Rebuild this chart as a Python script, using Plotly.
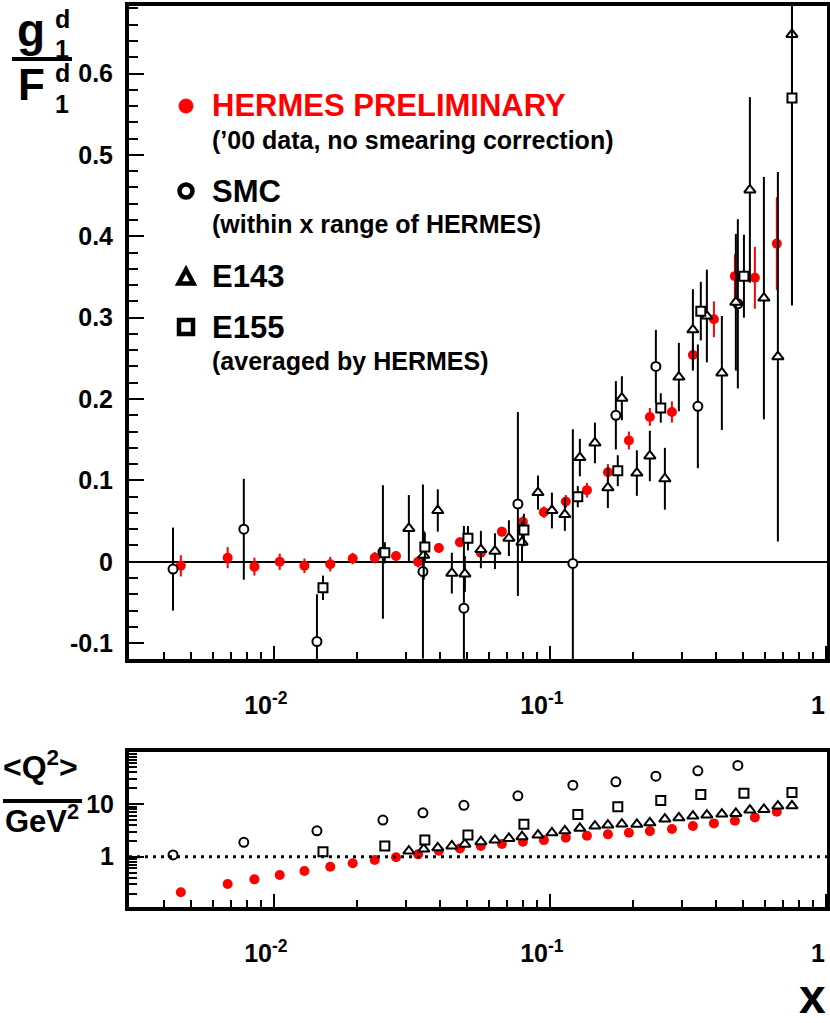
import plotly.graph_objects as go

# ---- data ----
hermes_x = [0.0046, 0.0068, 0.0085, 0.0105, 0.0129, 0.0160, 0.0193, 0.0232, 0.0277,
            0.0333, 0.0396, 0.0472, 0.0562, 0.0670, 0.0798, 0.0951, 0.1142, 0.1362,
            0.1623, 0.1933, 0.2303, 0.2768, 0.3297, 0.3929, 0.4680, 0.5529, 0.6640]
hermes_ratio = [-0.005, 0.005, -0.006, 0.000, -0.005, -0.003, 0.004, 0.005, 0.007,
                0.000, 0.017, 0.024, 0.011, 0.037, 0.049, 0.061, 0.074, 0.088,
                0.110, 0.149, 0.178, 0.184, 0.254, 0.298, 0.351, 0.349, 0.391]
hermes_err = [0.013, 0.013, 0.011, 0.010, 0.009, 0.009, 0.007, 0.007, 0.006,
              0.007, 0.006, 0.006, 0.006, 0.006, 0.007, 0.007, 0.008, 0.009,
              0.010, 0.011, 0.011, 0.013, 0.016, 0.022, 0.027, 0.038, 0.057]
hermes_q2 = [0.211, 0.303, 0.372, 0.45, 0.535, 0.646, 0.75, 0.865, 0.975,
             1.11, 1.30, 1.44, 1.60, 1.74, 1.93, 2.07, 2.29, 2.50,
             2.66, 2.85, 3.07, 3.36, 3.83, 4.30, 4.82, 5.59, 7.14]

smc_x = [0.00431, 0.00778, 0.01432, 0.02483, 0.03467, 0.0488, 0.07656, 0.1211,
         0.1734, 0.2421, 0.3436, 0.4797]
smc_ratio = [-0.009, 0.040, -0.098, 0.012, -0.012, -0.057, 0.071, -0.002,
             0.180, 0.240, 0.191, 0.317]
smc_err = [0.051, 0.062, 0.058, 0.082, 0.107, 0.101, 0.113, 0.165,
           0.042, 0.045, 0.076, 0.104]
smc_q2 = [1.08, 1.88, 3.11, 4.97, 6.84, 9.49, 14.4, 22.9, 26.5, 34.0, 42.9, 54.2]

e143_x = [0.03083, 0.03491, 0.03925, 0.04413, 0.0492, 0.05623, 0.06323, 0.07104,
          0.07925, 0.09053, 0.1017, 0.1133, 0.1284, 0.1456, 0.1622, 0.1823,
          0.2066, 0.2302, 0.2610, 0.2933, 0.3297, 0.3705, 0.4198, 0.4718,
          0.5304, 0.5962, 0.6699, 0.7535]
e143_ratio = [0.041, 0.008, 0.063, -0.014, -0.015, 0.015, 0.013, 0.029,
              0.024, 0.085, 0.063, 0.058, 0.128, 0.146, 0.091, 0.201,
              0.109, 0.130, 0.102, 0.227, 0.285, 0.302, 0.232, 0.319,
              0.457, 0.324, 0.252, 0.648]
e143_err = [0.041, 0.030, 0.026, 0.025, 0.022, 0.023, 0.022, 0.022,
            0.025, 0.021, 0.022, 0.020, 0.023, 0.025, 0.025, 0.027,
            0.028, 0.031, 0.038, 0.042, 0.050, 0.057, 0.070, 0.084,
            0.114, 0.149, 0.227, 0.330]
e143_q2 = [1.28, 1.40, 1.48, 1.60, 1.73, 1.93, 2.07, 2.23, 2.40, 2.58, 2.85, 3.11,
           3.46, 3.83, 4.00, 4.17, 4.12, 4.42, 5.19, 5.50, 5.92, 6.18, 6.46, 6.66,
           7.69, 7.93, 9.16, 9.29]

e155_x = [0.01506, 0.02523, 0.03523, 0.05047, 0.08051, 0.1262, 0.1762, 0.2522,
          0.3522, 0.5047, 0.7535]
e155_ratio = [-0.032, 0.011, 0.018, 0.029, 0.039, 0.080, 0.112, 0.189, 0.308, 0.351, 0.570]
e155_err = [0.015, 0.013, 0.018, 0.015, 0.020, 0.013, 0.019, 0.018, 0.036, 0.051, 0.255]
e155_q2 = [1.24, 1.60, 2.07, 2.58, 4.12, 6.38, 8.89, 11.7, 15.3, 16.0, 16.7]

x_ticks = [0.01, 0.1, 1]
x_tick_text = ["10<sup>-2</sup>", "10<sup>-1</sup>", "1"]
ratio_ticks = [-0.1, 0, 0.1, 0.2, 0.3, 0.4, 0.5, 0.6]
ratio_tick_text = ["-0.1", "0", "0.1", "0.2", "0.3", "0.4", "0.5", "0.6"]
q2_ticks = [1, 10]
q2_tick_text = ["1", "10"]

FONT = "Liberation Sans"
W, H = 830, 1023
L, R, T, B = 129, 3, 6, 116


def px(x):
    return (x - L) / (W - L - R)


def py(y):
    return (H - B - y) / (H - T - B)


x_minor = [m * 10.0 ** e for e in (-3, -2, -1) for m in range(2, 10)]
q2_minor = [m * 10.0 ** e for e in (-1, 0, 1) for m in range(2, 10)]

fig = go.Figure()


def err(arr, color):
    return dict(type="data", array=arr, color=color, thickness=2, width=0)


open_line = dict(color="black", width=2)

# top panel
fig.add_trace(go.Scatter(
    x=hermes_x, y=hermes_ratio, mode="markers", error_y=err(hermes_err, "#ff0000"),
    marker=dict(symbol="circle", size=10, color="#ff0000"), xaxis="x", yaxis="y"))
fig.add_trace(go.Scatter(
    x=smc_x, y=smc_ratio, mode="markers", error_y=err(smc_err, "black"),
    marker=dict(symbol="circle", size=9, color="white", line=open_line),
    xaxis="x", yaxis="y"))
fig.add_trace(go.Scatter(
    x=e143_x, y=e143_ratio, mode="markers", error_y=err(e143_err, "black"),
    marker=dict(symbol="triangle-up", size=10, color="white", line=open_line),
    xaxis="x", yaxis="y"))
fig.add_trace(go.Scatter(
    x=e155_x, y=e155_ratio, mode="markers", error_y=err(e155_err, "black"),
    marker=dict(symbol="square", size=9, color="white", line=open_line),
    xaxis="x", yaxis="y"))

# bottom panel
fig.add_trace(go.Scatter(
    x=hermes_x, y=hermes_q2, mode="markers",
    marker=dict(symbol="circle", size=10, color="#ff0000"), xaxis="x2", yaxis="y2"))
fig.add_trace(go.Scatter(
    x=smc_x, y=smc_q2, mode="markers",
    marker=dict(symbol="circle", size=9, color="white", line=open_line),
    xaxis="x2", yaxis="y2"))
fig.add_trace(go.Scatter(
    x=e143_x, y=e143_q2, mode="markers",
    marker=dict(symbol="triangle-up", size=10, color="white", line=open_line),
    xaxis="x2", yaxis="y2"))
fig.add_trace(go.Scatter(
    x=e155_x, y=e155_q2, mode="markers",
    marker=dict(symbol="square", size=9, color="white", line=open_line),
    xaxis="x2", yaxis="y2"))

tickfont = dict(family=FONT, size=25, color="black", weight="bold")
axis_common = dict(showline=True, linewidth=4, linecolor="black", mirror=True,
                   ticks="inside", tickwidth=2, tickcolor="black", showgrid=False,
                   tickfont=tickfont, automargin=False)

xaxis_common = dict(axis_common, type="log", range=[-2.525, 0.004],
                    tickmode="array", tickvals=x_ticks, ticktext=x_tick_text, ticklen=13,
                    ticklabelstandoff=21, ticklabelshift=-8, zeroline=False,
                    minor=dict(tickmode="array", tickvals=x_minor, ticks="inside",
                               ticklen=7, tickwidth=2, tickcolor="black"))

top_bottom = (H - B - 659) / (H - T - B)
low_top = (H - B - 752) / (H - T - B)

fig.update_layout(
    width=W, height=H,
    margin=dict(l=L, r=R, t=T, b=B),
    paper_bgcolor="white", plot_bgcolor="white",
    showlegend=False,
    font=dict(family=FONT, color="black"),
    xaxis=dict(xaxis_common, domain=[0, 1], anchor="y"),
    yaxis=dict(axis_common, domain=[top_bottom, 1], anchor="x",
               range=[-0.1195, 0.683], tickmode="array", tickvals=ratio_ticks,
               ticktext=ratio_tick_text, ticklen=15, ticklabelstandoff=7,
               zeroline=True, zerolinecolor="black", zerolinewidth=1.5,
               minor=dict(tick0=0, dtick=0.02, ticks="inside", ticklen=9,
                          tickwidth=2, tickcolor="black")),
    xaxis2=dict(xaxis_common, domain=[0, 1], anchor="y2"),
    yaxis2=dict(axis_common, domain=[0, low_top], anchor="x2", type="log",
                range=[-0.955, 1.99], tickmode="array", tickvals=q2_ticks,
                ticktext=q2_tick_text, ticklen=15, ticklabelstandoff=6, zeroline=False,
                minor=dict(tickmode="array", tickvals=q2_minor, ticks="inside",
                           ticklen=8, tickwidth=2, tickcolor="black")),
)

# dotted reference line at Q^2 = 1
fig.add_shape(type="line", xref="x2 domain", yref="y2", x0=0, x1=1, y0=1, y1=1,
              line=dict(color="black", width=3, dash="3px,5px"))

shapes_above = dict(xref="paper", yref="paper", layer="above")

# legend markers
fig.add_shape(type="circle", x0=px(179), x1=px(193), y0=py(113), y1=py(99),
              fillcolor="#ff0000", line=dict(color="#ff0000", width=1), **shapes_above)
fig.add_shape(type="circle", x0=px(179.5), x1=px(192.5), y0=py(197.5), y1=py(184.5),
              fillcolor="white", line=dict(color="black", width=4.5), **shapes_above)
fig.add_shape(type="path",
              path=f"M {px(178.5)},{py(283.5)} L {px(193.5)},{py(283.5)} L {px(186)},{py(269.5)} Z",
              fillcolor="white", line=dict(color="black", width=4.5), **shapes_above)
fig.add_shape(type="rect", x0=px(179), x1=px(193), y0=py(334), y1=py(320),
              fillcolor="white", line=dict(color="black", width=4.5), **shapes_above)


def label(text, x, y, size, color="black", xanchor="left"):
    fig.add_annotation(text=text, x=px(x), y=py(y), xref="paper", yref="paper",
                       xanchor=xanchor, yanchor="middle", showarrow=False,
                       font=dict(family=FONT, size=size, color=color, weight="bold"))


label("HERMES PRELIMINARY", 210, 106, 31, color="#ff0000")
label("(\u201900 data, no smearing correction)", 210, 140, 25)
label("SMC", 210, 191, 31)
label("(within x range of HERMES)", 210, 224, 25)
label("E143", 210, 276, 31)
label("E155", 210, 327, 31)
label("(averaged by HERMES)", 210, 361, 25)

# y-axis title, top panel: g1^d / F1^d
label("g", 31, 30, 46, xanchor="center")
label("d", 62, 19, 25, xanchor="center")
label("1", 62, 49, 25, xanchor="center")
label("F", 31, 84, 44, xanchor="center")
label("d", 62, 73, 25, xanchor="center")
label("1", 62, 104, 25, xanchor="center")
fig.add_shape(type="line", x0=px(12), x1=px(72), y0=py(59), y1=py(59),
              line=dict(color="black", width=4), **shapes_above)

# y-axis title, bottom panel: <Q^2>/GeV^2
label("<Q<sup>2</sup>>", 40, 765, 32, xanchor="center")
fig.add_shape(type="line", x0=px(3), x1=px(82), y0=py(801), y1=py(801),
              line=dict(color="black", width=4), **shapes_above)
label("GeV<sup>2</sup>", 42, 819, 31, xanchor="center")

# x-axis title
label("x", 828, 996, 48, xanchor="right")

# page margin off so the 830x1023 figure sits at the window origin
fig.write_html("out.html", config={"displayModeBar": False},
               post_script="document.body.style.margin='0';")
